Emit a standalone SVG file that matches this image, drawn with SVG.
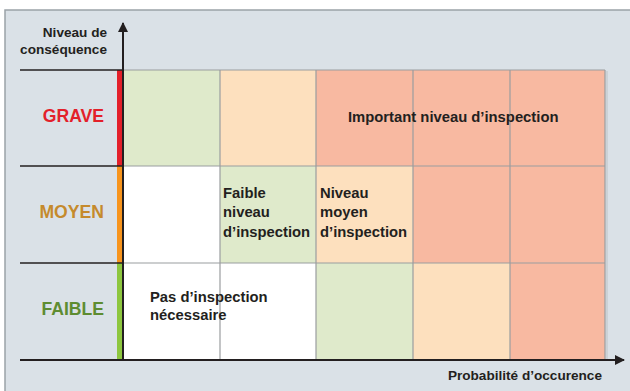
<svg xmlns="http://www.w3.org/2000/svg" width="630" height="391" viewBox="0 0 630 391">
<defs>
<style>
.t{font-family:"Liberation Sans",Arial,Helvetica,sans-serif;font-weight:bold;fill:#231f20}
.b{font-size:14.8px}
.a{font-size:13.6px}
.lab{font-family:"Liberation Sans",Arial,Helvetica,sans-serif;font-weight:bold;font-size:17.6px}
.g{fill:#dfeacb}.o{fill:#fde0be}.r{fill:#f8b9a1}.w{fill:#ffffff}
.grid{stroke:#9a9d9f;stroke-width:1.2;fill:none}
.ax{stroke:#231f20;stroke-width:2;fill:none}
.hl{stroke:#231f20;stroke-width:1.6;fill:none}
</style>
<marker id="ah" markerWidth="10" markerHeight="10" viewBox="0 0 10 10" refX="9" refY="5" orient="auto" markerUnits="userSpaceOnUse">
<path d="M0,0 L10,5 L0,10 Z" fill="#231f20"/>
</marker>
</defs>
<rect x="0" y="0" width="630" height="391" fill="#ffffff"/>
<rect x="5" y="10" width="630" height="390" fill="#dae1e7" stroke="#9aa3a8" stroke-width="1.5"/>

<g id="cells">
<rect class="g" x="123" y="70" width="97" height="96"/>
<rect class="o" x="220" y="70" width="96" height="96"/>
<rect class="r" x="316" y="70" width="289" height="96"/>
<rect class="w" x="123" y="166" width="97" height="97"/>
<rect class="g" x="220" y="166" width="96" height="97"/>
<rect class="o" x="316" y="166" width="97" height="97"/>
<rect class="r" x="413" y="166" width="192" height="97"/>
<rect class="w" x="123" y="263" width="193" height="97"/>
<rect class="g" x="316" y="263" width="97" height="97"/>
<rect class="o" x="413" y="263" width="97" height="97"/>
<rect class="r" x="510" y="263" width="95" height="97"/>
</g>
<g id="grid" class="grid">
<line x1="123" y1="70" x2="605" y2="70"/>
<line x1="123" y1="166" x2="605" y2="166"/>
<line x1="123" y1="263" x2="605" y2="263"/>
<line x1="220" y1="70" x2="220" y2="360"/>
<line x1="316" y1="70" x2="316" y2="360"/>
<line x1="413" y1="70" x2="413" y2="360"/>
<line x1="510" y1="70" x2="510" y2="360"/>
<line x1="605" y1="70" x2="605" y2="360"/>
<line x1="607" y1="71" x2="607" y2="360" stroke="#c3c8cc"/>
</g>

<g id="bars">
<rect x="117" y="70" width="5" height="96" fill="#e3202a"/>
<rect x="117" y="166" width="5" height="97" fill="#f7941d"/>
<rect x="117" y="263" width="5" height="97" fill="#8dc63f"/>
</g>

<g id="connectors">
<line class="hl" x1="20" y1="70" x2="123" y2="70"/>
<line class="hl" x1="20" y1="166" x2="123" y2="166"/>
<line class="hl" x1="20" y1="263" x2="123" y2="263"/>
<line class="ax" x1="123" y1="361" x2="123" y2="23" marker-end="url(#ah)"/>
<line class="ax" x1="20" y1="360" x2="624" y2="360" marker-end="url(#ah)"/>
</g>

<g id="y-axis-label">
<text class="t a" text-anchor="end" x="107" y="37">Niveau de</text>
<text class="t a" text-anchor="end" x="107" y="54">conséquence</text>
</g>
<g id="x-axis-label">
<text class="t a" text-anchor="end" x="602" y="380">Probabilité d’occurence</text>
</g>
<g id="grave"><text class="lab" fill="#e3202a" text-anchor="end" x="104" y="122">GRAVE</text></g>
<g id="moyen"><text class="lab" fill="#c58a2c" text-anchor="end" x="104" y="218">MOYEN</text></g>
<g id="faible"><text class="lab" fill="#5e8c31" text-anchor="end" x="104" y="315">FAIBLE</text></g>

<g id="pas-inspection">
<text class="t b" x="150" y="302">Pas d’inspection</text>
<text class="t b" x="150" y="320">nécessaire</text>
</g>
<g id="faible-niveau">
<text class="t b" x="223" y="198">Faible</text>
<text class="t b" x="223" y="217">niveau</text>
<text class="t b" x="223" y="237">d’inspection</text>
</g>
<g id="niveau-moyen">
<text class="t b" x="320" y="198">Niveau</text>
<text class="t b" x="320" y="217">moyen</text>
<text class="t b" x="320" y="237">d’inspection</text>
</g>
<g id="important">
<text class="t b" x="348" y="122">Important niveau d’inspection</text>
</g>
</svg>
